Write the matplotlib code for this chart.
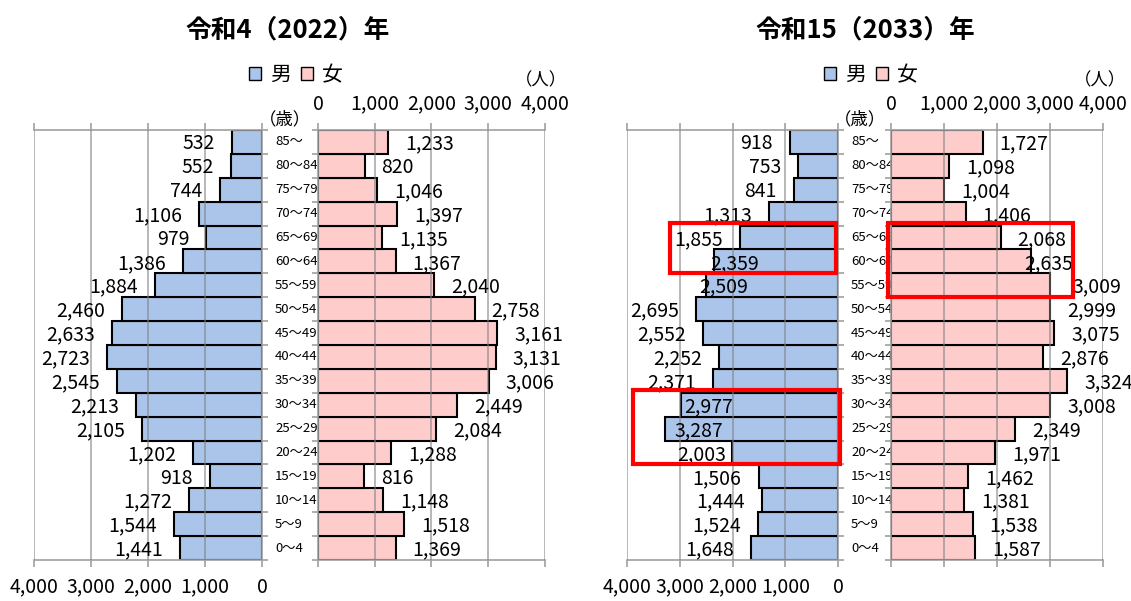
import numpy as np
import matplotlib
matplotlib.use("Agg")
import matplotlib.pyplot as plt
from matplotlib.patches import Patch, Rectangle
from matplotlib import transforms

plt.rcParams['font.family'] = ['Noto Sans CJK JP', 'DejaVu Sans']

# 年齢階級（下から上へ）
ages = ['0～4', '5～9', '10～14', '15～19', '20～24', '25～29', '30～34', '35～39',
        '40～44', '45～49', '50～54', '55～59', '60～64', '65～69', '70～74',
        '75～79', '80～84', '85～']

male_2022 = [1441, 1544, 1272, 918, 1202, 2105, 2213, 2545, 2723, 2633, 2460,
             1884, 1386, 979, 1106, 744, 552, 532]
female_2022 = [1369, 1518, 1148, 816, 1288, 2084, 2449, 3006, 3131, 3161, 2758,
               2040, 1367, 1135, 1397, 1046, 820, 1233]
male_2033 = [1648, 1524, 1444, 1506, 2003, 3287, 2977, 2371, 2252, 2552, 2695,
             2509, 2359, 1855, 1313, 841, 753, 918]
female_2033 = [1587, 1538, 1381, 1462, 1971, 2349, 3008, 3324, 2876, 3075, 2999,
               3009, 2635, 2068, 1406, 1004, 1098, 1727]

titles = ['令和4（2022）年', '令和15（2033）年']

MALE_C = '#AAC4EA'
FEMALE_C = '#FFCCCC'
GRID_C = '#808080'

W, H = 1131, 601
fig = plt.figure(figsize=(W / 100, H / 100), dpi=100)


def px_axes(x0, x1, y0=130, y1=560):
    return fig.add_axes([x0 / W, 1 - y1 / H, (x1 - x0) / W, (y1 - y0) / H])


# ラベルの手動調整（ピクセル、インデックス: ずらし量）
nudge = [
    ({}, {}),
    ({12: 62, 11: 59, 6: 69, 5: 75, 4: 11}, {12: -23, 11: 5}),
]

# 赤枠（性別, 下端行, 上端行, 外側x, 内側x）
boxes_2033 = [('m', 12, 13, 3190, 30), ('f', 11, 13, 3430, -60), ('m', 4, 6, 3890, -40)]

panels = [
    dict(title=titles[0], male=male_2022, female=female_2022,
         mx=(34, 262), fx=(318, 545), cx=288, leg=296, ren=541, sai=285),
    dict(title=titles[1], male=male_2033, female=female_2033,
         mx=(627, 838), fx=(891, 1103), cx=865, leg=871, ren=1100, sai=860),
]

y = np.arange(len(ages))
fmt = lambda v, p=None: f'{int(v):,}'
NUM_FS = 14

for k, p in enumerate(panels):
    ax_m = px_axes(*p['mx'])
    ax_f = px_axes(*p['fx'])
    for ax, vals, col, side in [(ax_m, p['male'], MALE_C, 'm'), (ax_f, p['female'], FEMALE_C, 'f')]:
        ax.barh(y, vals, height=1.0, color=col, edgecolor='black', linewidth=1.5, zorder=1)
        ax.set_ylim(-0.5, len(ages) - 0.5)
        ax.set_xticks([0, 1000, 2000, 3000, 4000])
        ax.xaxis.set_major_formatter(fmt)
        ax.grid(axis='x', color=GRID_C, alpha=0.65, linewidth=1.2, zorder=3)
        ax.set_axisbelow(False)
        for s in ax.spines.values():
            s.set_color('#A0A0A0')
            s.set_linewidth(1.2)
        ax.xaxis.set_ticks_position('both')
        ax.tick_params(axis='x', direction='out', length=5, color='#A0A0A0', width=1.2,
                       labelsize=NUM_FS)
        ax.set_yticks(np.arange(-0.5, len(ages), 1))
        ax.set_yticklabels([])
        ax.tick_params(axis='y', direction='out', length=4, color='#A0A0A0', width=1.2)
        nd = nudge[k][0 if side == 'm' else 1]
        for i, v in enumerate(vals):
            dx = nd.get(i, 0)
            if side == 'm':
                ax.annotate(fmt(v), (v, i), xytext=(-17 + dx, -2), textcoords='offset pixels',
                            ha='right', va='center', fontsize=NUM_FS, zorder=5, annotation_clip=False)
            else:
                ax.annotate(fmt(v), (v, i), xytext=(17 + dx, -2), textcoords='offset pixels',
                            ha='left', va='center', fontsize=NUM_FS, zorder=5, annotation_clip=False)

    ax_m.set_xlim(4000, 0)
    ax_m.spines['left'].set_visible(False)
    ax_m.yaxis.tick_right()
    ax_m.tick_params(axis='x', labeltop=False, labelbottom=True, pad=7)

    ax_f.set_xlim(0, 4000)
    ax_f.spines['right'].set_visible(False)
    ax_f.yaxis.tick_left()
    ax_f.tick_params(axis='x', labeltop=True, labelbottom=False, pad=6)

    # 年齢ラベル
    tr = transforms.blended_transform_factory(ax_m.transAxes, ax_m.transData)
    tr = tr + transforms.ScaledTranslation(0.13, 0, fig.dpi_scale_trans)
    for i, a in enumerate(ages):
        ax_m.text(1.0, i, a, transform=tr, ha='left', va='center', fontsize=9.5, clip_on=False)

    fig.text(p['cx'] / W, 1 - 30 / H, p['title'], ha='center', va='center',
             fontsize=18.5, fontweight='bold')
    fig.text(p['ren'] / W, 1 - 80 / H, '（人）', ha='center', va='center', fontsize=12.5)
    fig.text(p['sai'] / W, 1 - 119 / H, '（歳）', ha='center', va='center', fontsize=12.5)

    handles = [Patch(facecolor=MALE_C, edgecolor='black', linewidth=1),
               Patch(facecolor=FEMALE_C, edgecolor='black', linewidth=1)]
    fig.legend(handles, ['男', '女'], loc='center', bbox_to_anchor=(p['leg'] / W, 1 - 75 / H),
               ncol=2, frameon=False, fontsize=15, handlelength=0.55, handleheight=0.55,
               handletextpad=0.45, columnspacing=0.5, borderpad=0, borderaxespad=0)

    if k == 1:
        for side, r0, r1, xo, xi in boxes_2033:
            ax = ax_m if side == 'm' else ax_f
            x0 = min(xo, xi)
            rect = Rectangle((x0, r0 - 0.5), abs(xo - xi), r1 - r0 + 1.1, fill=False,
                             edgecolor='#FF0000', linewidth=3, zorder=6, clip_on=False)
            ax.add_patch(rect)

fig.savefig('out.png', dpi=100)
